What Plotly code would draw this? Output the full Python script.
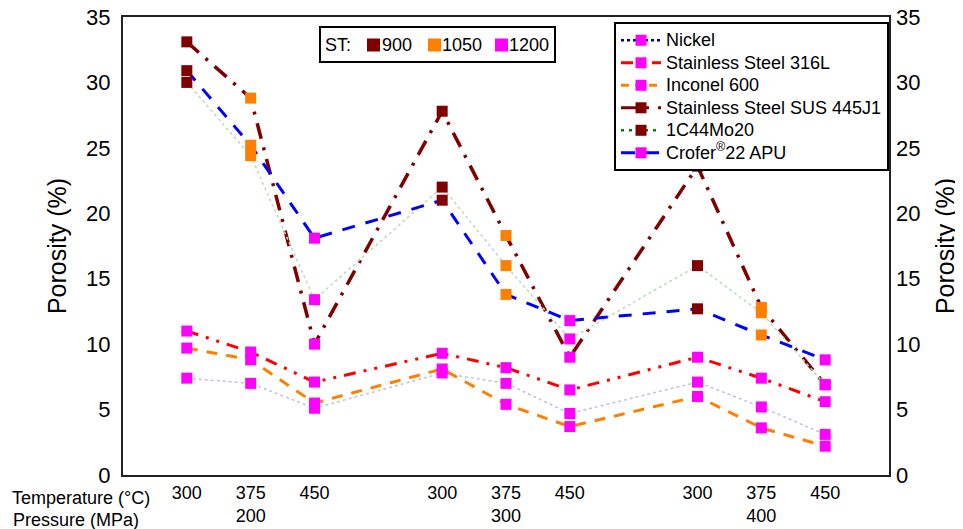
import plotly.graph_objects as go

# ---------------- data ----------------
x_positions = [1, 2, 3, 5, 6, 7, 9, 10, 11]
temperature_labels = ["300", "375", "450", "300", "375", "450", "300", "375", "450"]
pressure_labels = ["", "200", "", "", "300", "", "", "400", ""]

nickel = [7.4, 7.0, 5.1, 7.8, 7.0, 4.7, 7.1, 5.2, 3.1]
ss316l = [11.0, 9.4, 7.1, 9.3, 8.2, 6.5, 9.0, 7.4, 5.6]
inconel600 = [9.7, 8.8, 5.5, 8.1, 5.4, 3.7, 6.0, 3.6, 2.2]
sus445j1 = [33.1, 28.8, 10.0, 27.8, 18.3, 9.0, 23.6, 12.8, 6.9]
c44mo20 = [30.0, 24.4, 13.4, 22.0, 16.0, 10.4, 16.0, 12.4, 6.9]
crofer = [30.9, 25.2, 18.1, 21.0, 13.8, 11.8, 12.7, 10.7, 8.8]

# sintering temperature (ST) of each point
st_graded = [900, 1050, 1200, 900, 1050, 1200, 900, 1050, 1200]
st_uniform = [1200, 1200, 1200, 1200, 1200, 1200, 1200, 1200, 1200]
st_levels = [900, 1050, 1200]

series_names = ["Nickel", "Stainless Steel 316L", "Inconel 600",
                "Stainless Steel SUS 445J1", "1C44Mo20", "Crofer<sup>®</sup>22 APU"]
series_values = [nickel, ss316l, inconel600, sus445j1, c44mo20, crofer]
series_st = [st_uniform, st_uniform, st_uniform, st_graded, st_graded, st_graded]
legend_st = [1200, 1200, 1200, 900, 900, 1200]

# ---------------- styles ----------------
st_colors = {900: "#800000", 1050: "#FF8000", 1200: "#FF00FF"}
line_styles = [
    dict(color="#BFBFE6", width=1.5, dash="dot"),
    dict(color="#FF0000", width=3, dash="12px,8px,3px,8px,3px,8px"),
    dict(color="#FF8000", width=3, dash="11px,9px"),
    dict(color="#800000", width=3.5, dash="16px,9px,3px,9px"),
    dict(color="#B8DDB8", width=1.5, dash="dot"),
    dict(color="#0000FF", width=3, dash="13px,11px"),
]
legend_line_styles = [
    dict(color="#000080", width=2.5, dash="3px,3px"),
    dict(color="#FF0000", width=3, dash="12px,8px,3px,8px"),
    dict(color="#FF8000", width=3, dash="8px,6px"),
    dict(color="#800000", width=3, dash="16px,9px,3px,9px"),
    dict(color="#008000", width=2.5, dash="3px,5px"),
    dict(color="#0000FF", width=3, dash="14px,10px"),
]
FONT = "Arial, Liberation Sans, sans-serif"

# page body has an 8px margin: figure is sized/placed to land the plot area where the reference has it
FIG_W, FIG_H = 955, 521
PLOT_W, PLOT_H = 766, 458

# ST key layout (pixel positions relative to the plot area's left / top)
st_key_box = (197, 10, 432, 45)          # x0, y0, x1, y1
st_key_square_x = [250.5, 311.5, 378.5]  # square centres
st_key_text_x = [259, 319, 386]
st_key_y = 28
st_key_sq = 13

def px(xp):
    return xp / PLOT_W

def py(yp):
    return 1 - yp / PLOT_H

fig = go.Figure()

# lines
for name, vals, ls in zip(series_names, series_values, line_styles):
    fig.add_trace(go.Scatter(x=x_positions, y=vals, mode="lines", line=ls,
                             showlegend=False, hoverinfo="skip"))
# markers
for name, vals, st in zip(series_names, series_values, series_st):
    fig.add_trace(go.Scatter(x=x_positions, y=vals, mode="markers",
                             marker=dict(symbol="square", size=11,
                                         color=[st_colors[s] for s in st]),
                             name=name, showlegend=False))
# series legend
for name, ls, lst in zip(series_names, legend_line_styles, legend_st):
    fig.add_trace(go.Scatter(x=[None], y=[None], mode="lines+markers",
                             name=f'<span style="font-size:18px">{name}</span>',
                             line=ls,
                             marker=dict(symbol="square", size=11, color=st_colors[lst])))
# right axis carrier
fig.add_trace(go.Scatter(x=[None], y=[None], yaxis="y2", showlegend=False,
                         hoverinfo="skip"))

ticktext = [t if p == "" else f"{t}<br>{p}" for t, p in zip(temperature_labels, pressure_labels)]

shapes = [dict(type="rect", xref="paper", yref="paper", layer="above",
               x0=px(st_key_box[0]), x1=px(st_key_box[2]),
               y0=py(st_key_box[3]), y1=py(st_key_box[1]),
               line=dict(color="black", width=2), fillcolor="white")]
annotations = [dict(text="ST:", xref="paper", yref="paper", x=px(200), y=py(st_key_y),
                    xanchor="left", yanchor="middle", showarrow=False,
                    font=dict(size=18))]
for st, sx, tx in zip(st_levels, st_key_square_x, st_key_text_x):
    shapes.append(dict(type="rect", xref="paper", yref="paper", layer="above",
                       x0=px(sx - st_key_sq / 2), x1=px(sx + st_key_sq / 2),
                       y0=py(st_key_y + st_key_sq / 2), y1=py(st_key_y - st_key_sq / 2),
                       line=dict(width=0), fillcolor=st_colors[st]))
    annotations.append(dict(text=str(st), xref="paper", yref="paper", x=px(tx - 2),
                            y=py(st_key_y), xanchor="left", yanchor="middle",
                            showarrow=False, font=dict(size=18)))

annotations += [
    dict(text="Temperature (°C)", xref="paper", yref="paper", x=-0.148, y=-0.025,
         xanchor="left", yanchor="top", showarrow=False, font=dict(size=18)),
    dict(text="Pressure (MPa)", xref="paper", yref="paper", x=-0.146, y=-0.073,
         xanchor="left", yanchor="top", showarrow=False, font=dict(size=18)),
]

fig.update_layout(
    width=FIG_W, height=FIG_H,
    margin=dict(l=115, r=FIG_W - 115 - PLOT_W, t=9, b=FIG_H - 9 - PLOT_H),
    paper_bgcolor="white", plot_bgcolor="white",
    font=dict(family=FONT, color="black"),
    xaxis=dict(range=[0, 12], tickmode="array", tickvals=x_positions, ticktext=ticktext,
               showgrid=False, zeroline=False, showline=True, mirror=True,
               linecolor="#222", linewidth=2, ticks="", tickfont=dict(size=18),
               automargin=False),
    yaxis=dict(range=[0, 35], dtick=5, showgrid=False, zeroline=False, showline=True,
               mirror=True, linecolor="#222", linewidth=2, ticks="",
               tickfont=dict(size=22), ticklabelstandoff=6, automargin=False,
               ticklabeloverflow="allow",
               title=dict(text="Porosity (%)", font=dict(size=25), standoff=12)),
    yaxis2=dict(range=[0, 35], dtick=5, overlaying="y", side="right", showgrid=False,
                zeroline=False, showline=False, ticks="", tickfont=dict(size=22),
                ticklabelstandoff=6, automargin=False, ticklabeloverflow="allow",
                title=dict(text="Porosity (%)", font=dict(size=25), standoff=17)),
    legend=dict(x=0.641, y=0.989, xanchor="left", yanchor="top",
                bgcolor="white", bordercolor="black", borderwidth=2,
                font=dict(size=15), tracegroupgap=0, itemwidth=40),
    shapes=shapes,
    annotations=annotations,
)

fig.write_html("out.html")
